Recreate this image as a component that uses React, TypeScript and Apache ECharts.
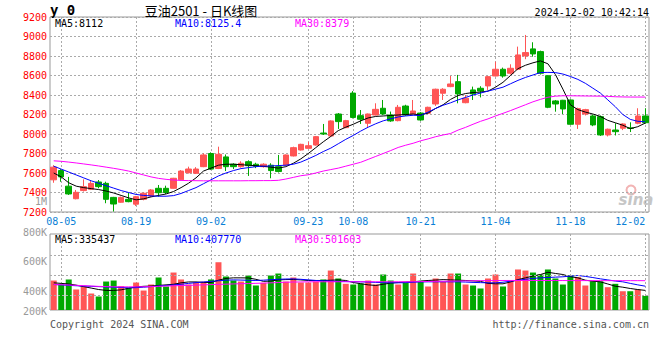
import React, { useEffect, useRef } from "react";
import * as echarts from "echarts";

// ---------- data ----------
const DATES = [
  "08-02","08-05","08-06","08-07","08-08","08-09","08-12","08-13","08-14","08-15","08-16",
  "08-19","08-20","08-21","08-22","08-23","08-26","08-27","08-28","08-29","08-30",
  "09-02","09-03","09-04","09-05","09-06","09-09","09-10","09-11","09-12","09-13",
  "09-18","09-19","09-20","09-23","09-24","09-25","09-26","09-27","09-30",
  "10-08","10-09","10-10","10-11","10-14","10-15","10-16","10-17","10-18",
  "10-21","10-22","10-23","10-24","10-25","10-28","10-29","10-30","10-31",
  "11-01","11-04","11-05","11-06","11-07","11-08","11-11","11-12","11-13","11-14","11-15",
  "11-18","11-19","11-20","11-21","11-22","11-25","11-26","11-27","11-28","11-29","12-02",
];

const LABEL_DATES = ["08-05","08-19","09-02","09-23","10-08","10-21","11-04","11-18","12-02"];

// [open, close, low, high]
const OHLC = [
  [7530,7660,7500,7680],[7625,7560,7510,7640],[7465,7385,7375,7560],[7336,7402,7330,7426],
  [7420,7460,7410,7535],[7433,7494,7425,7518],[7508,7460,7443,7528],[7494,7330,7290,7511],
  [7350,7282,7205,7355],[7300,7350,7295,7358],[7330,7306,7300,7400],[7280,7357,7262,7365],
  [7330,7392,7320,7400],[7364,7426,7355,7435],[7443,7398,7357,7477],[7443,7400,7385,7470],
  [7443,7546,7440,7550],[7530,7620,7525,7630],[7603,7641,7595,7665],[7597,7641,7590,7660],
  [7665,7785,7660,7802],[7800,7640,7630,7812],[7646,7792,7640,7870],[7765,7665,7620,7790],
  [7690,7665,7640,7700],[7665,7700,7655,7720],[7716,7675,7570,7730],[7690,7668,7650,7705],
  [7665,7690,7655,7700],[7680,7625,7546,7700],[7665,7615,7605,7785],[7682,7785,7675,7790],
  [7775,7860,7770,7870],[7836,7894,7830,7900],[7853,7880,7850,7921],[7887,7973,7880,7980],
  [8010,8000,7990,8103],[7980,8134,7975,8140],[8205,8127,8052,8215],[8065,8137,8060,8145],
  [8420,8170,8160,8440],[8188,8151,8103,8246],[8110,8205,8065,8210],[8195,8253,8190,8315],
  [8264,8205,8195,8349],[8195,8134,8125,8230],[8137,8274,8130,8298],[8287,8195,8185,8300],
  [8205,8236,8200,8349],[8215,8144,8135,8225],[8213,8274,8205,8280],[8308,8459,8288,8465],
  [8418,8459,8349,8470],[8486,8513,8480,8595],[8537,8411,8315,8606],[8321,8367,8315,8400],
  [8452,8411,8349,8486],[8469,8441,8375,8490],[8493,8588,8452,8595],[8595,8664,8590,8742],
  [8664,8595,8578,8681],[8623,8674,8610,8715],[8664,8811,8655,8896],[8801,8835,8767,9016],
  [8873,8821,8793,8941],[8845,8623,8610,8855],[8598,8274,8265,8600],[8339,8308,8229,8349],
  [8346,8257,8205,8350],[8349,8100,8095,8355],[8100,8260,8052,8270],[8205,8250,8190,8258],
  [8185,8093,8080,8200],[8178,7990,7980,8190],[7990,8049,7975,8055],[8041,8024,7985,8110],
  [8059,8103,8040,8110],[8062,8058,8020,8120],[8110,8185,8100,8264],[8185,8116,8105,8264],
];

const MA5 = [
  7600,7560,7500,7465,7450,7440,7430,7415,7395,7370,
  7345,7325,7335,7355,7370,7385,7410,7450,7495,7550,
  7620,7650,7680,7690,7690,7685,7680,7675,7668,7660,
  7650,7665,7700,7745,7800,7860,7920,7975,8035,8070,
  8100,8135,8165,8180,8185,8190,8195,8200,8205,8195,
  8215,8262,8300,8355,8395,8415,8425,8430,8440,8480,
  8530,8600,8670,8705,8730,8750,8720,8610,8460,8300,
  8250,8225,8205,8180,8140,8115,8090,8055,8075,8112,
];
const MA10 = [
  7670,7640,7610,7580,7550,7520,7495,7470,7445,7420,
  7400,7380,7370,7365,7362,7362,7368,7390,7420,7450,
  7490,7530,7570,7600,7625,7645,7655,7665,7670,7672,
  7676,7680,7690,7712,7745,7780,7820,7855,7900,7945,
  7985,8030,8070,8105,8135,8155,8175,8185,8192,8190,
  8225,8262,8295,8320,8350,8375,8400,8420,8440,8460,
  8480,8515,8550,8580,8605,8630,8632,8630,8615,8590,
  8560,8520,8470,8420,8350,8280,8200,8150,8130,8125.4,
];
const MA30 = [
  7725,7720,7712,7703,7693,7683,7672,7660,7648,7635,
  7620,7600,7580,7560,7545,7535,7528,7524,7522,7521,
  7520,7520,7520,7520,7520,7520,7521,7521,7522,7522,
  7525,7538,7555,7572,7582,7600,7620,7635,7650,7670,
  7690,7710,7740,7770,7800,7830,7862,7885,7905,7930,
  7950,7972,7990,8005,8040,8068,8100,8130,8155,8185,
  8212,8240,8270,8300,8330,8355,8377,8388,8392,8392,
  8391,8390,8389,8388,8386,8382,8380,8379,8379,8379,
];

const VOLUME = [
  504000,436000,522000,351000,407000,282000,231000,487000,504000,407000,
  380000,470000,333000,436000,556000,402000,641000,522000,436000,470000,
  482000,522000,817000,573000,504000,487000,590000,419000,465000,590000,
  624000,487000,556000,470000,470000,487000,522000,675000,539000,448000,
  436000,453000,504000,436000,607000,504000,436000,465000,624000,492000,
  402000,539000,482000,624000,624000,436000,419000,368000,539000,607000,
  402000,504000,693000,675000,641000,607000,693000,539000,436000,590000,
  564000,419000,492000,492000,390000,448000,321000,321000,350000,240000,
];
const VOL_MA5 = [
  465000,455000,445000,425000,400000,375000,350000,335000,335000,345000,
  370000,395000,405000,410000,420000,430000,440000,465000,480000,480000,
  472000,470000,510000,540000,550000,550000,548000,525000,490000,495000,
  515000,520000,522000,515000,505000,505000,505000,510000,515000,505000,
  470000,450000,430000,420000,440000,460000,470000,478000,482000,495000,
  505000,512000,520000,515000,510000,505000,498000,490000,455000,448000,
  448000,480000,520000,550000,580000,607000,645000,625000,607000,570000,
  550000,510000,493000,482000,445000,407000,390000,368000,350000,335437,
];
const VOL_MA10 = [
  436000,430000,422000,415000,410000,405000,400000,395000,390000,385000,
  380000,382000,390000,400000,410000,420000,430000,440000,455000,468000,
  480000,490000,500000,510000,515000,512000,508000,505000,510000,518000,
  525000,530000,532000,525000,515000,505000,500000,495000,490000,487000,
  484000,482000,478000,472000,468000,466000,465000,468000,475000,480000,
  482000,482000,482000,482000,482000,478000,472000,468000,465000,465000,
  475000,493000,510000,525000,540000,550000,556000,562000,568000,580000,
  590000,575000,555000,533000,515000,495000,482000,455000,430000,407770,
];
const VOL_MA30 = [
  436000,432000,428000,422000,416000,410000,404000,400000,397000,396000,
  396000,397000,398000,400000,405000,410000,414000,418000,422000,426000,
  430000,434000,438000,442000,446000,450000,453000,456000,460000,465000,
  470000,475000,478000,480000,482000,483000,483000,483000,483000,483000,
  483000,483000,483000,483000,483000,483000,483000,483000,484000,486000,
  488000,490000,492000,494000,496000,498000,500000,502000,503000,504000,
  505000,505000,505000,505000,505000,505000,505000,504000,504000,503000,
  503000,503000,502000,502000,502000,502000,502000,502000,502000,501603,
];

const PRICE_MIN = 7200;
const PRICE_MAX = 9200;
const PRICE_STEP = 200;
const VOL_MAX = 1300000;
const VOL_GRID_VALUES = [256600, 598700, 940800];
const VOL_TICK_LABELS = ["1M", "800K", "600K", "400K", "200K"];

// ---------- layout / style ----------
const VOL_TICK_Y = [201, 232, 261, 291, 311];
const UP = "#FF5555";
const DOWN = "#00A800";
const MONO = '"DejaVu Sans Mono", monospace';
const GRID_LINE = { color: "#aaaaaa", type: [2, 2], width: 1 };

const LABEL_SET = new Set(LABEL_DATES);
const last = (a: number[]) => a[a.length - 1];

function txt(x: number, y: number, text: string, fill: string, align = "left", font = `10px ${MONO}`) {
  return {
    type: "text",
    x,
    y,
    silent: true,
    style: {
      text,
      fill,
      font,
      align,
      textAlign: align,
      verticalAlign: "middle",
      textVerticalAlign: "middle",
    },
  };
}

export default function App() {
  const ref = useRef<HTMLDivElement>(null);

  useEffect(() => {
    if (!ref.current) return;
    const chart = echarts.init(ref.current, null, { renderer: "svg" });

    const splitX = {
      show: true,
      interval: (_i: number, v: string) => LABEL_SET.has(v),
      alignWithLabel: true,
      lineStyle: GRID_LINE,
    };

    const maLine = (name: string, data: number[], color: string, xi: number, yi: number) => ({
      name,
      type: "line",
      xAxisIndex: xi,
      yAxisIndex: yi,
      data,
      symbol: "none",
      smooth: false,
      silent: true,
      z: 3,
      lineStyle: { color, width: 1 },
    });

    const option = {
      animation: false,
      backgroundColor: "#ffffff",
      textStyle: { fontFamily: MONO },
      grid: [
        { left: 50, top: 17, width: 599, height: 195, show: true, borderColor: "#999", borderWidth: 1, backgroundColor: "transparent" },
        { left: 50, top: 234, width: 599, height: 76, show: true, borderColor: "#999", borderWidth: 1, backgroundColor: "transparent" },
      ],
      xAxis: [
        {
          type: "category",
          gridIndex: 0,
          data: DATES,
          boundaryGap: true,
          axisLine: { show: false },
          axisTick: { show: false },
          axisLabel: {
            interval: (_i: number, v: string) => LABEL_SET.has(v),
            color: "#0a7fd6",
            fontSize: 10,
            fontFamily: MONO,
            margin: 4,
            alignMaxLabel: "right",
          },
          splitLine: splitX,
        },
        {
          type: "category",
          gridIndex: 1,
          data: DATES,
          boundaryGap: true,
          axisLine: { show: false },
          axisTick: { show: false },
          axisLabel: { show: false },
          splitLine: splitX,
        },
      ],
      yAxis: [
        {
          type: "value",
          gridIndex: 0,
          min: PRICE_MIN,
          max: PRICE_MAX,
          interval: PRICE_STEP,
          axisLine: { show: false },
          axisTick: { show: false },
          axisLabel: {
            color: "#ff0000",
            fontSize: 10,
            fontFamily: MONO,
            margin: 3,
            formatter: (v: number) => String(v),
          },
          splitLine: { show: true, lineStyle: GRID_LINE },
        },
        {
          type: "value",
          gridIndex: 1,
          min: 0,
          max: VOL_MAX,
          axisLine: { show: false },
          axisTick: { show: false },
          axisLabel: { show: false },
          splitLine: { show: false },
        },
      ],
      series: [
        {
          name: "K",
          type: "candlestick",
          xAxisIndex: 0,
          yAxisIndex: 0,
          data: OHLC,
          barWidth: 6,
          silent: true,
          itemStyle: { color: UP, color0: DOWN, borderColor: UP, borderColor0: DOWN, borderWidth: 1 },
        },
        maLine("MA5", MA5, "#000000", 0, 0),
        maLine("MA10", MA10, "#0000ff", 0, 0),
        maLine("MA30", MA30, "#ff00ff", 0, 0),
        {
          name: "volgrid",
          type: "line",
          xAxisIndex: 1,
          yAxisIndex: 1,
          data: [],
          z: 1,
          silent: true,
          markLine: {
            silent: true,
            symbol: ["none", "none"],
            label: { show: false },
            lineStyle: GRID_LINE,
            data: VOL_GRID_VALUES.map((v) => ({ yAxis: v })),
          },
        },
        {
          name: "VOL",
          type: "bar",
          xAxisIndex: 1,
          yAxisIndex: 1,
          barWidth: 6,
          silent: true,
          z: 2,
          data: VOLUME.map((v, i) => ({
            value: v,
            itemStyle: { color: OHLC[i][1] >= OHLC[i][0] ? UP : DOWN },
          })),
        },
        maLine("VMA5", VOL_MA5, "#000000", 1, 1),
        maLine("VMA10", VOL_MA10, "#0000ff", 1, 1),
        maLine("VMA30", VOL_MA30, "#ff00ff", 1, 1),
      ],
      graphic: [
        txt(50, 10, "y 0", "#000", "left", `bold 14px ${MONO}`),
        txt(201, 10, "豆油2501 - 日K线图", "#000", "center", '13px "Noto Sans CJK SC"'),
        txt(649, 12, "2024-12-02 10:42:14", "#000", "right"),
        txt(55, 23.5, `MA5:${last(MA5)}`, "#000000"),
        txt(175, 23.5, `MA10:${last(MA10)}`, "#0000ff"),
        txt(295, 23.5, `MA30:${last(MA30)}`, "#ff00ff"),
        txt(55, 239, `MA5:${last(VOL_MA5)}`, "#000000"),
        txt(175, 239, `MA10:${last(VOL_MA10)}`, "#0000ff"),
        txt(295, 239, `MA30:${last(VOL_MA30)}`, "#ff00ff"),
        ...VOL_TICK_LABELS.map((t, i) => txt(47, VOL_TICK_Y[i], t, "#999999", "right")),
        txt(50, 324, "Copyright 2024 SINA.COM", "#555555"),
        txt(649, 324, "http://finance.sina.com.cn", "#555555", "right"),
        {
          type: "circle",
          silent: true,
          shape: { cx: 631, cy: 190, r: 4.5 },
          style: { fill: "none", stroke: "#f2b4b4", lineWidth: 2 },
        },
        txt(636, 200, "sina", "#c6c6c6", "center", 'italic bold 15px "DejaVu Sans"'),
      ],
    };

    chart.setOption(option as any);
    return () => chart.dispose();
  }, []);

  return (
    <div
      ref={ref}
      style={{ position: "fixed", left: 0, top: 0, width: 660, height: 360, background: "#fff" }}
    />
  );
}
